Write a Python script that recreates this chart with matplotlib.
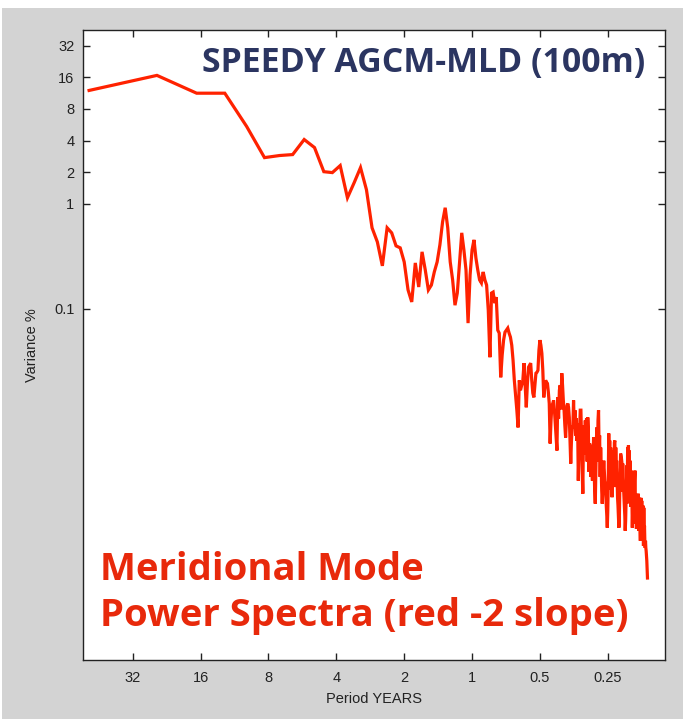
import numpy as np
import matplotlib
matplotlib.use("Agg")
import matplotlib.pyplot as plt
from matplotlib.patches import Rectangle

# 50-year monthly record -> harmonics k = 1..300 (period = 50/k years)
record_years = 50.0
harmonics = np.arange(1, 301)
period = record_years / harmonics

# variance (%) per harmonic
variance = [
    12.0, 16.7, 11.3, 11.3, 5.45, 2.75, 2.88, 2.94, 4.09, 3.43,
    2.02, 1.98, 2.31, 1.14, 1.59, 2.21, 1.36, 0.59, 0.433, 0.256,
    0.59, 0.528, 0.397, 0.38, 0.279, 0.151, 0.116, 0.273, 0.161, 0.348,
    0.234, 0.151, 0.168, 0.224, 0.279, 0.406, 0.672, 0.916, 0.59, 0.279,
    0.188, 0.108, 0.141, 0.279, 0.528, 0.363, 0.234, 0.0729, 0.21, 0.363,
    0.453, 0.305, 0.234, 0.188, 0.176, 0.224, 0.188, 0.168, 0.097, 0.0345,
    0.141, 0.144, 0.113, 0.129, 0.0625, 0.0585, 0.0222, 0.0361, 0.0502, 0.0598,
    0.0625, 0.0653, 0.0585, 0.0536, 0.0449, 0.0323, 0.0208, 0.015, 0.0108, 0.0074,
    0.0208, 0.0167, 0.0187, 0.0208, 0.0303, 0.0187, 0.0115, 0.0194, 0.0277, 0.029,
    0.0303, 0.0208, 0.0157, 0.0143, 0.0187, 0.0243, 0.0248, 0.0259, 0.0402, 0.0502,
    0.0449, 0.0376, 0.0259, 0.0143, 0.0175, 0.0208, 0.0199, 0.0194, 0.016, 0.0125,
    0.0052, 0.00863, 0.012, 0.0125, 0.0134, 0.0108, 0.00808, 0.0062, 0.00446, 0.0143,
    0.009, 0.0167, 0.0187, 0.011, 0.0243, 0.0187, 0.0134, 0.0108, 0.00773, 0.00593,
    0.00863, 0.012, 0.0125, 0.0115, 0.00922, 0.00555, 0.00335, 0.00555, 0.0074, 0.0074,
    0.0134, 0.0075, 0.0108, 0.0062, 0.00902, 0.0055, 0.00808, 0.0023, 0.00446, 0.00692,
    0.0108, 0.0108, 0.00555, 0.00287, 0.00173, 0.00648, 0.00773, 0.0041, 0.00863, 0.0048,
    0.00902, 0.0035, 0.00922, 0.00692, 0.0028, 0.0052, 0.00498, 0.0025, 0.00357, 0.00287,
    0.0023, 0.00357, 0.00593, 0.00287, 0.00185, 0.00139, 0.00287, 0.00555, 0.0074, 0.0035,
    0.00863, 0.0108, 0.0045, 0.0062, 0.0025, 0.00476, 0.00287, 0.00185, 0.00139, 0.00185,
    0.00287, 0.00357, 0.00287, 0.0023, 0.00216, 0.00165, 0.00133, 0.00107, 0.00082, 0.00119,
    0.0023, 0.00648, 0.0030, 0.00555, 0.0019, 0.00476, 0.0025, 0.00446, 0.0016, 0.00399,
    0.0022, 0.00446, 0.0030, 0.00531, 0.00555, 0.0020, 0.00476, 0.0028, 0.00357, 0.0023,
    0.00158, 0.00133, 0.00107, 0.00082, 0.000955, 0.00185, 0.00287, 0.00417, 0.00399, 0.00374,
    0.00342, 0.0018, 0.00335, 0.00241, 0.00198, 0.00165, 0.00133, 0.00107, 0.000767, 0.000955,
    0.00148, 0.0023, 0.00321, 0.0017, 0.00476, 0.0022, 0.00498, 0.0014, 0.00446, 0.0019,
    0.00357, 0.00246, 0.0013, 0.00287, 0.0023, 0.00148, 0.00082, 0.00119, 0.00173, 0.00095,
    0.00158, 0.0009, 0.0023, 0.00287, 0.0012, 0.00148, 0.00107, 0.0008, 0.00119, 0.00165,
    0.0009, 0.00158, 0.00173, 0.0008, 0.000767, 0.00148, 0.00158, 0.00085, 0.000615, 0.00148,
    0.00158, 0.0008, 0.00148, 0.000687, 0.00119, 0.00075, 0.00133, 0.000551, 0.00127, 0.0007,
    0.000856, 0.000615, 0.000527, 0.000615, 0.000527, 0.000493, 0.000442, 0.000396, 0.000318, 0.000272,
]

x_ticks = [32, 16, 8, 4, 2, 1, 0.5, 0.25]
x_labels = ["32", "16", "8", "4", "2", "1", "0.5", "0.25"]
y_ticks = [0.1, 1, 2, 4, 8, 16, 32]
y_labels = ["0.1", "1", "2", "4", "8", "16", "32"]

plt.rcParams["font.family"] = ["Liberation Sans", "DejaVu Sans"]

fig = plt.figure(figsize=(6.83, 7.19), dpi=100, facecolor="#d3d3d3")
# thin white border along the top and left edge
fig.add_artist(Rectangle((0, 0.989), 1, 0.011, transform=fig.transFigure,
                         facecolor="white", edgecolor="none"))
fig.add_artist(Rectangle((0, 0), 0.003, 1, transform=fig.transFigure,
                         facecolor="white", edgecolor="none"))

ax = fig.add_axes([0.121, 0.082, 0.853, 0.876])
ax.set_facecolor("white")
ax.plot(period, variance, color="#ff2200", lw=2.3, solid_joinstyle="miter")

ax.set_xscale("log")
ax.set_yscale("log")
ax.set_xlim(53.4, 0.139)
ax.set_ylim(4.5e-5, 45)

ax.set_xticks(x_ticks)
ax.set_xticklabels(x_labels)
ax.set_yticks(y_ticks)
ax.set_yticklabels(y_labels)
ax.minorticks_off()
ax.tick_params(which="major", direction="in", length=5, width=1,
               top=True, right=True, labelsize=10.5, colors="#222222")
ax.tick_params(axis="x", pad=8)
ax.tick_params(axis="y", pad=6)

for s in ax.spines.values():
    s.set_linewidth(1.0)
    s.set_color("#222222")

ax.set_xlabel("Period YEARS", fontsize=10.5, color="#222222", labelpad=5)
ax.set_ylabel("Variance %", fontsize=10.5, color="#222222")
ax.yaxis.set_label_coords(-0.075, 0.5)

ax.text(0.965, 0.975, "SPEEDY AGCM-MLD (100m)", transform=ax.transAxes,
        ha="right", va="top", fontsize=24.4, fontweight="bold",
        color="#2b3561", family=["Open Sans", "DejaVu Sans"])

ax.text(0.03, 0.04, "Meridional Mode\nPower Spectra (red -2 slope)",
        transform=ax.transAxes, ha="left", va="bottom", fontsize=27.5,
        fontweight="bold", color="#e8290b", linespacing=1.27,
        family=["Open Sans", "DejaVu Sans"])

fig.savefig("out.png", dpi=100, facecolor=fig.get_facecolor())
